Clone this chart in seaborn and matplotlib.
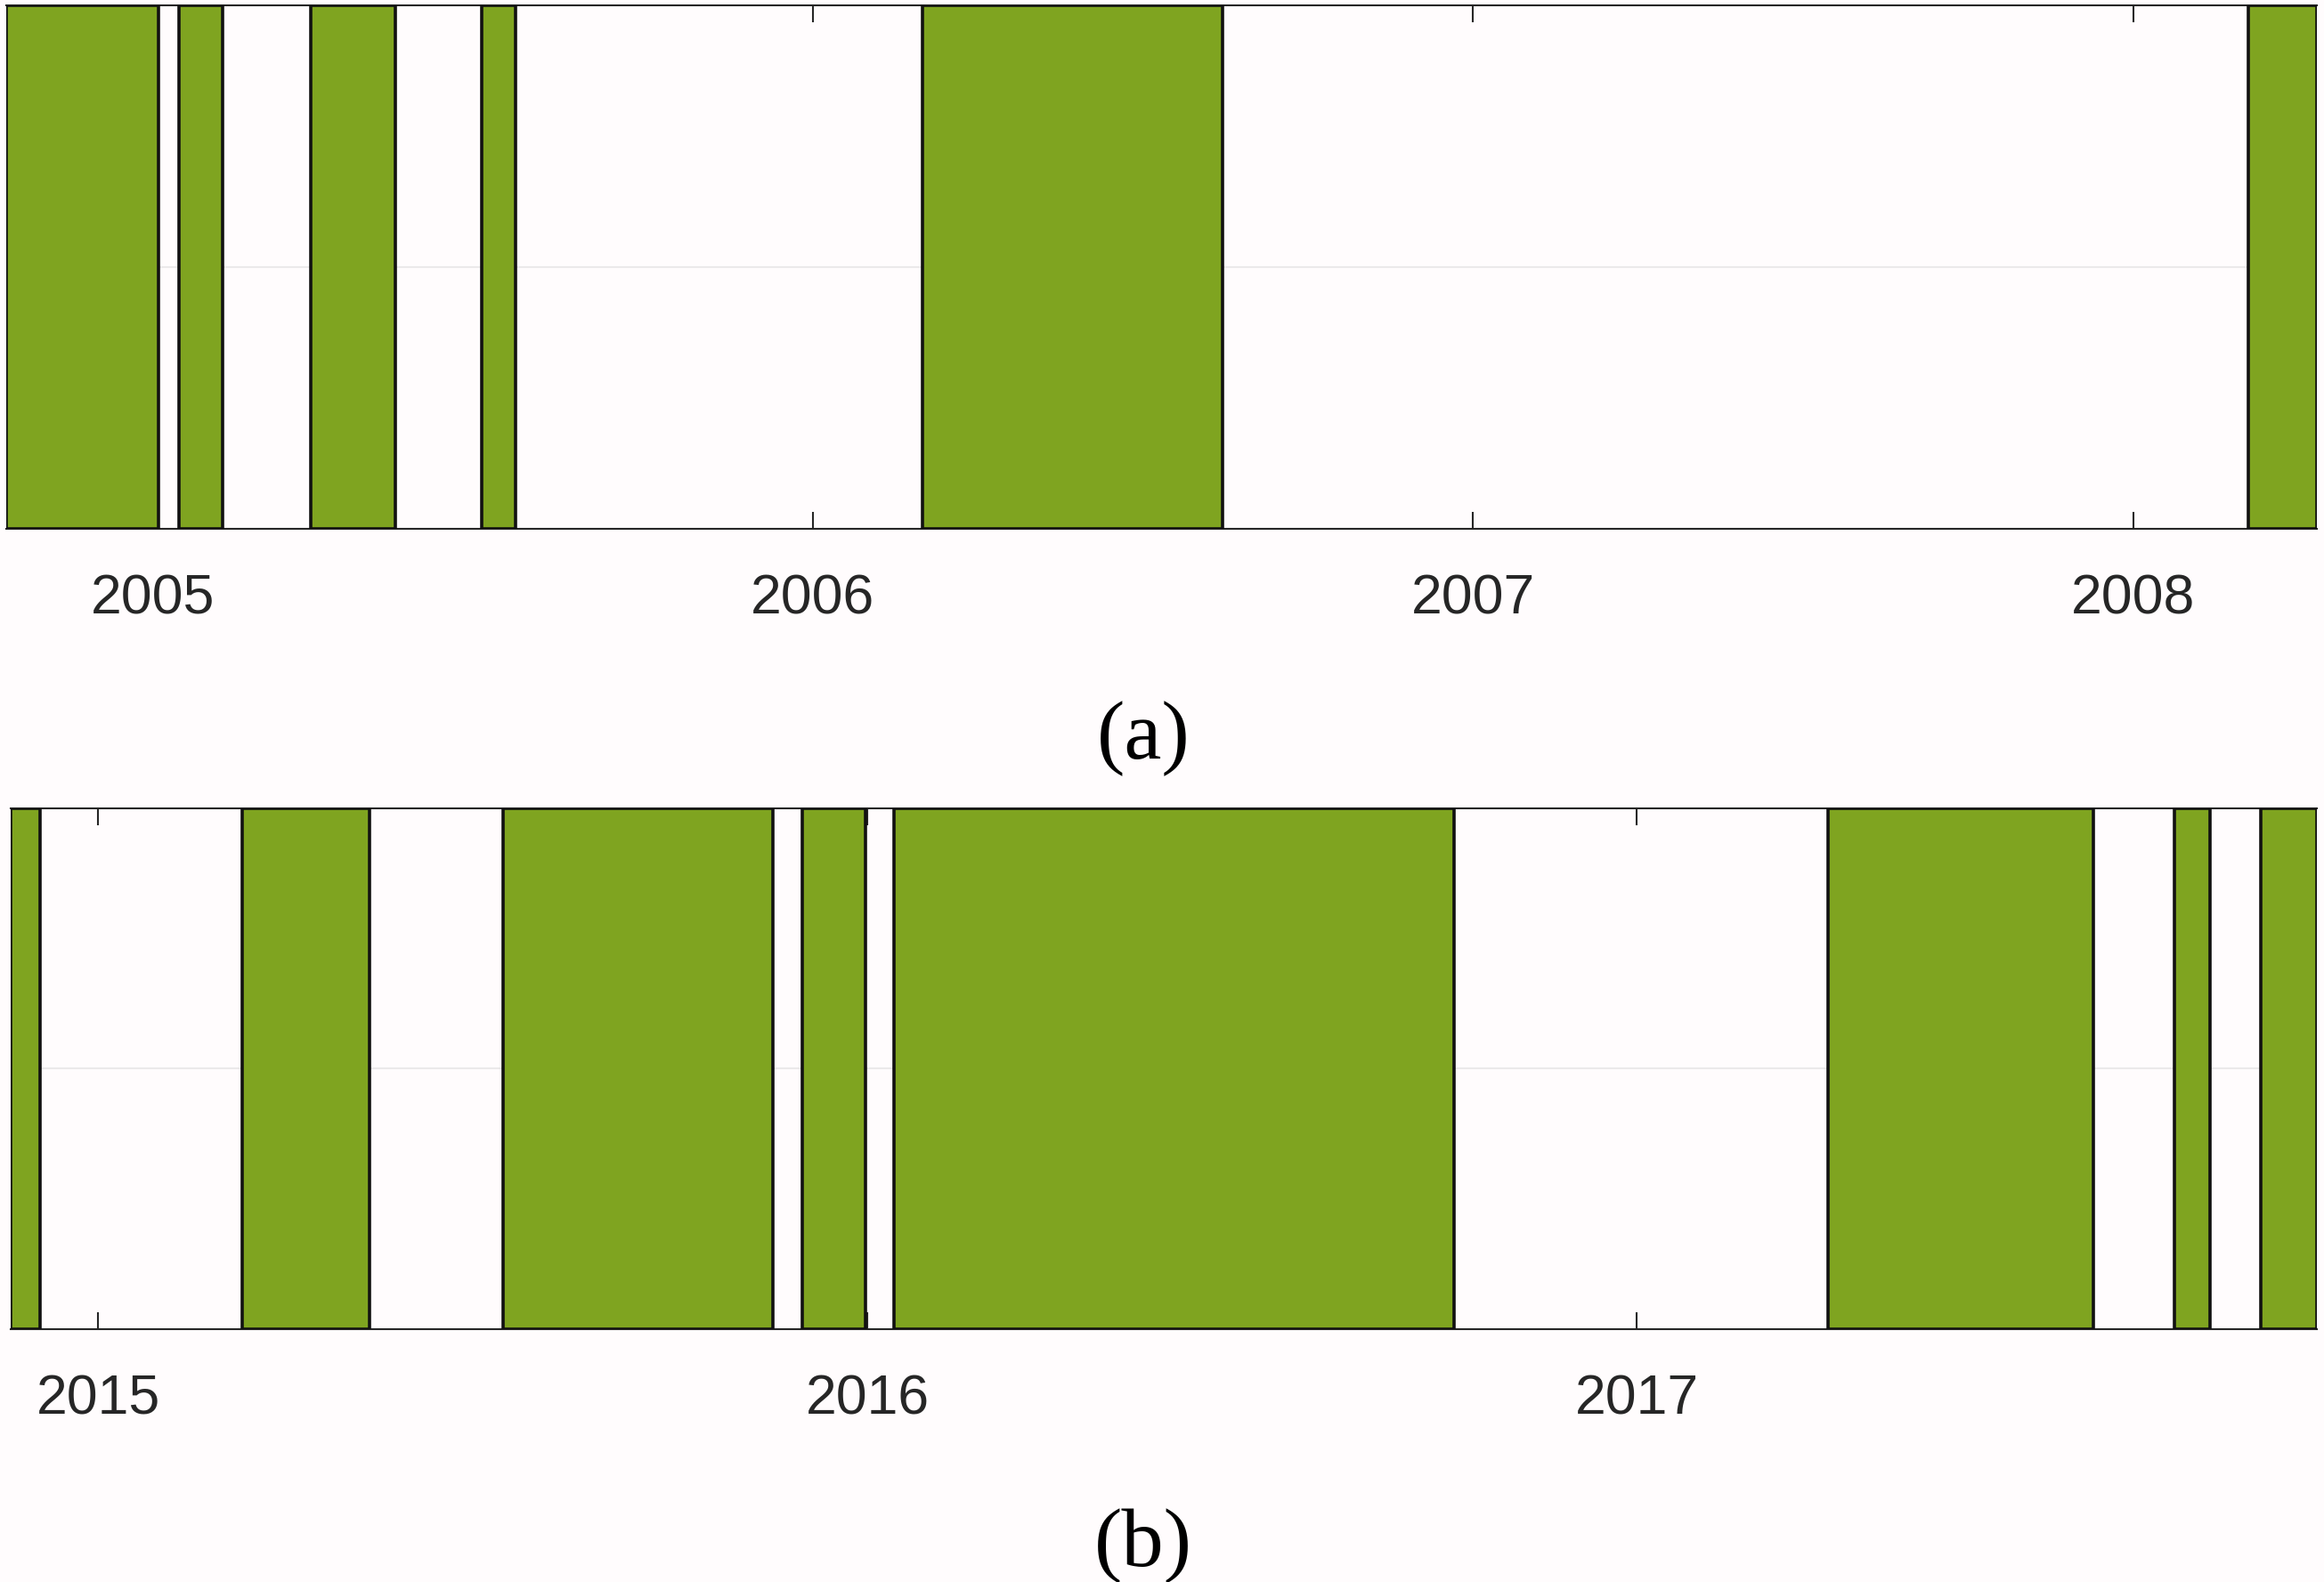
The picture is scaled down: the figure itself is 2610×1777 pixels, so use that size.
import matplotlib
matplotlib.use('Agg')
import matplotlib.pyplot as plt
import seaborn as sns

# green periods, as (start, end) in decimal years
periods_a_start = [2004.778, 2005.040, 2005.240, 2005.499, 2006.166, 2008.175]
periods_a_end = [2005.009, 2005.106, 2005.368, 2005.550, 2006.621, 2008.278]
xlim_a = (2004.778, 2008.278)
ticks_a = [2005, 2006, 2007, 2008]

periods_b_start = [2014.886, 2015.187, 2015.526, 2015.915, 2016.035, 2017.249, 2017.699, 2017.811]
periods_b_end = [2014.925, 2015.353, 2015.877, 2015.998, 2016.763, 2017.594, 2017.746, 2017.884]
xlim_b = (2014.886, 2017.884)
ticks_b = [2015, 2016, 2017]

panel_labels = ['(a)', '(b)']

sns.set_style('white')
plt.rcParams['font.family'] = ['Liberation Sans', 'DejaVu Sans']

green = '#7fa420'
bg = '#fffcfd'

fig = plt.figure(figsize=(26.1, 17.77), dpi=100, facecolor=bg)
ax_a = fig.add_axes([0.0026, 0.666, 0.9942, 0.3304])
ax_b = fig.add_axes([0.0045, 0.160, 0.9923, 0.3292])

panels = [
    (ax_a, periods_a_start, periods_a_end, xlim_a, ticks_a),
    (ax_b, periods_b_start, periods_b_end, xlim_b, ticks_b),
]

for ax, starts, ends, xlim, ticks in panels:
    ax.set_facecolor(bg)
    widths = [e - s for s, e in zip(starts, ends)]
    ax.bar(starts, [1] * len(starts), width=widths, align='edge',
           color=green, edgecolor='#111111', linewidth=2.6, zorder=3)
    ax.axhline(0.5, color='#ebe9ea', linewidth=1.5, zorder=1)
    ax.set_xlim(*xlim)
    ax.set_ylim(0, 1)
    ax.set_yticks([])
    ax.set_xticks(ticks)
    ax.set_xticklabels([str(t) for t in ticks])
    ax.tick_params(axis='x', direction='in', length=14, width=1.5, color='#262626',
                   top=True, bottom=True, labelsize=45, labelcolor='#262626', pad=36)
    for side in ['left', 'right']:
        ax.spines[side].set_visible(False)
    for side in ['top', 'bottom']:
        ax.spines[side].set_color('#262626')
        ax.spines[side].set_linewidth(1.5)

fig.text(0.492, 0.533, panel_labels[0], ha='center', va='center',
         family=['Liberation Serif', 'DejaVu Serif'], fontsize=68, color='black')
fig.text(0.492, 0.023, panel_labels[1], ha='center', va='center',
         family=['Liberation Serif', 'DejaVu Serif'], fontsize=68, color='black')

fig.savefig('out.png', dpi=100, facecolor=bg)
